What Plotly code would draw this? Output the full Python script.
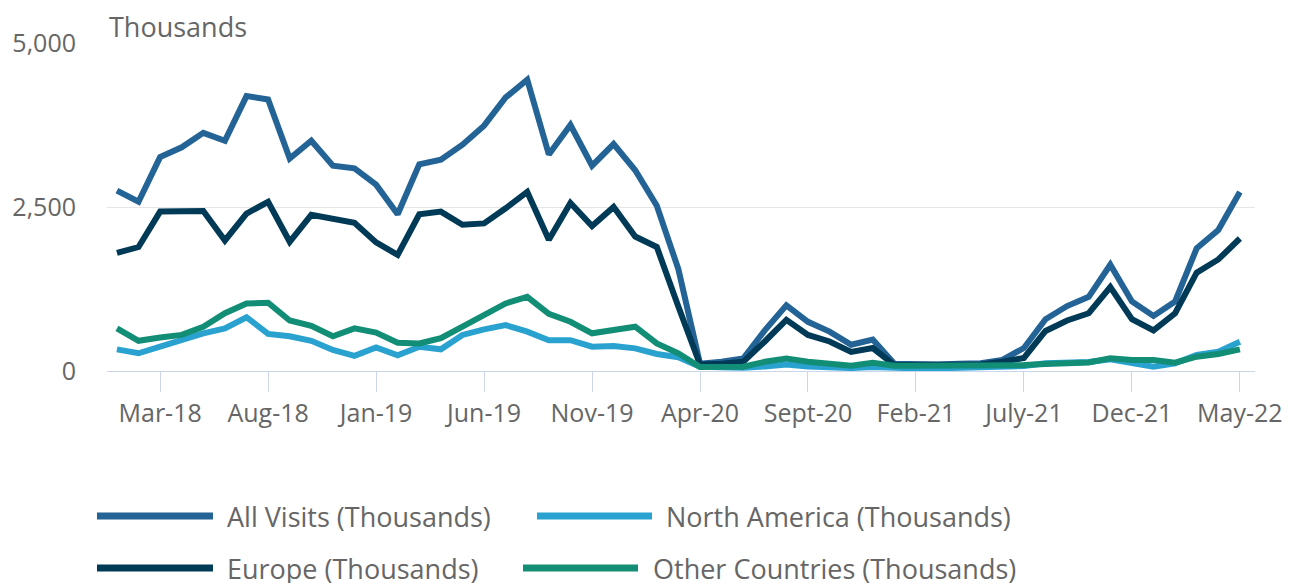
import plotly.graph_objects as go
import pandas as pd

months = list(pd.date_range("2018-01-01", "2022-05-01", freq="MS").strftime("%b-%y"))

all_visits = [2750, 2580, 3260, 3410, 3630, 3510, 4190, 4140, 3240, 3510, 3130, 3090, 2840, 2390,
              3150, 3220, 3450, 3740, 4170, 4440, 3300, 3750, 3130, 3460, 3060, 2520, 1550, 110,
              140, 190, 620, 1000, 750, 600, 400, 480, 110, 100, 100, 110, 120, 170, 350, 790,
              990, 1130, 1620, 1060, 840, 1060, 1870, 2150, 2730]
north_america = [330, 270, 370, 470, 575, 650, 820, 565, 530, 460, 320, 230, 360, 240,
                 370, 330, 550, 635, 700, 600, 470, 470, 370, 380, 345, 260, 210, 65,
                 50, 50, 70, 100, 70, 55, 45, 60, 40, 40, 40, 45, 50, 60, 76, 117,
                 130, 137, 178, 117, 66, 117, 244, 294, 447]
europe = [1800, 1890, 2430, 2440, 2440, 1990, 2400, 2580, 1970, 2380, 2310, 2260, 1960, 1770,
          2390, 2430, 2230, 2250, 2480, 2730, 2000, 2560, 2210, 2500, 2050, 1890, 980, 100,
          110, 140, 450, 780, 550, 450, 290, 350, 90, 90, 85, 90, 100, 140, 200, 610,
          770, 880, 1280, 790, 620, 880, 1500, 1700, 2020]
other = [650, 460, 510, 550, 675, 880, 1030, 1040, 770, 690, 530, 650, 585, 430,
         420, 500, 675, 855, 1030, 1130, 870, 750, 575, 625, 675, 420, 270, 60,
         60, 66, 140, 190, 140, 120, 80, 125, 80, 80, 80, 80, 80, 85, 90, 107,
         117, 130, 193, 168, 168, 127, 218, 259, 330]

series_names = ["All Visits (Thousands)", "North America (Thousands)",
                "Europe (Thousands)", "Other Countries (Thousands)"]
series_values = [all_visits, north_america, europe, other]
colors = ["#236396", "#2aa2d0", "#003a56", "#138e76"]

tick_idx = [2, 7, 12, 17, 22, 27, 32, 37, 42, 47, 52]
tick_text = ["Mar-18", "Aug-18", "Jan-19", "Jun-19", "Nov-19", "Apr-20",
             "Sept-20", "Feb-21", "July-21", "Dec-21", "May-22"]

OFF = 8  # page body margin
W, H = 1298 - OFF, 583 - OFF
L, R, T, B = 107 - OFF, 43, 43 - OFF, 212
pw, ph = W - L - R, H - T - B

def px_x(p):
    return (p - OFF - L) / pw

def px_y(p):
    return (H - B - (p - OFF)) / ph

fig = go.Figure()
for name, vals, col in zip(series_names, series_values, colors):
    fig.add_trace(go.Scatter(x=months, y=vals, mode="lines", name=name,
                             line=dict(color=col, width=6), showlegend=False))

fig.update_layout(
    width=W, height=H,
    margin=dict(l=L, r=R, t=T, b=B),
    paper_bgcolor="white", plot_bgcolor="white",
    font=dict(family="Open Sans", size=25, color="#666666"),
    xaxis=dict(type="category", range=[-0.46, 52.7], automargin=False,
               tickvals=[months[i] for i in tick_idx], ticktext=tick_text,
               showline=True, linecolor="#ccd6eb", linewidth=1,
               ticks="outside", ticklen=20, tickcolor="#ccd6eb", tickwidth=1,
               showgrid=False, tickfont=dict(size=25, color="#666666")),
    yaxis=dict(range=[0, 5000], tickvals=[0, 2500, 5000], tickformat=",", automargin=False,
               showgrid=True, gridcolor="#e6e6e6", gridwidth=1, zeroline=False,
               ticklabelstandoff=30, tickfont=dict(size=25, color="#666666")),
)

fig.add_annotation(x=px_x(107), y=px_y(27), xref="paper", yref="paper",
                   text="Thousands", showarrow=False, xanchor="left", yanchor="middle",
                   font=dict(size=27, color="#666666"))

legend_pos = [(97, 213, 225, 516), (537, 652, 664, 516), (97, 213, 225, 568), (523, 638, 651, 568)]
for (x0, x1, tx, yy), name, col in zip(legend_pos, series_names, colors):
    fig.add_shape(type="line", xref="paper", yref="paper",
                  x0=px_x(x0), x1=px_x(x1), y0=px_y(yy), y1=px_y(yy),
                  line=dict(color=col, width=7))
    fig.add_annotation(x=px_x(tx), y=px_y(yy), xref="paper", yref="paper",
                       text=name, showarrow=False, xanchor="left", yanchor="middle",
                       font=dict(size=27, color="#666666"))

fig.write_html("out.html")
